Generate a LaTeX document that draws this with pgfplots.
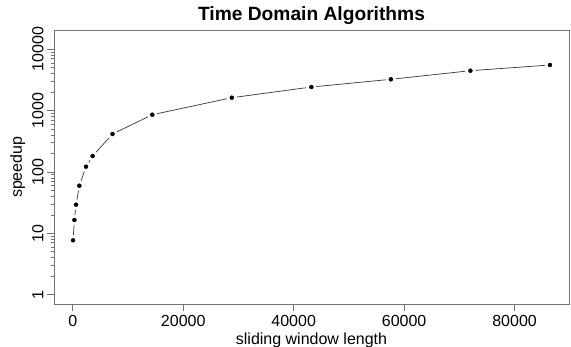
\documentclass[border=0pt]{standalone}
\usepackage{pgfplots}
\pgfplotsset{compat=1.18}
\usepackage{fontspec}
\setmainfont{Liberation Sans}
\begin{document}
\begin{tikzpicture}
\path[use as bounding box] (0,0) rectangle (571pt,347pt);
\begin{axis}[
  at={(54pt,42.5pt)}, anchor=south west,
  scale only axis, width=515pt, height=274.5pt,
  xmin=-3394, xmax=89854,
  ymode=log, ymin=0.692, ymax=20650,
  axis line style={black!55, line width=0.7pt},
  tick style={black!55, line width=0.7pt},
  tick align=outside, major tick length=7pt,
  xtick pos=bottom, ytick pos=left,
  minor tick num=0, minor y tick num=0,
  xtick={0,20000,40000,60000,80000},
  scaled x ticks=false,
  ytick={1,10,100,1000,10000},
  yticklabels={1,10,100,1000,10000},
  /pgf/number format/1000 sep={},
  /pgf/number format/assume math mode=true,
  ticklabel style={font=\fontsize{16}{19}\selectfont, text=black},
  yticklabel style={rotate=90, anchor=south},
  xlabel={sliding window length},
  ylabel={speedup},
  label style={font=\fontsize{16}{19}\selectfont},
  title={Time Domain Algorithms},
  title style={font=\fontsize{19.2}{23}\selectfont\bfseries, yshift=-4pt},
  clip=false,
]
\addplot[black!75, line width=0.75pt] table {
x y
60 7.71
300 16.5
600 29.3
1200 59.8
2400 122
3600 182
7200 416
14400 859
28800 1626
43200 2427
57600 3244
72000 4480
86400 5548
};
\addplot[only marks, mark=*, mark size=5pt, white] table {
x y
60 7.71
300 16.5
600 29.3
1200 59.8
2400 122
3600 182
7200 416
14400 859
28800 1626
43200 2427
57600 3244
72000 4480
86400 5548
};
\addplot[only marks, mark=*, mark size=2pt, black] table {
x y
60 7.71
300 16.5
600 29.3
1200 59.8
2400 122
3600 182
7200 416
14400 859
28800 1626
43200 2427
57600 3244
72000 4480
86400 5548
};
\end{axis}
\end{tikzpicture}
\end{document}
